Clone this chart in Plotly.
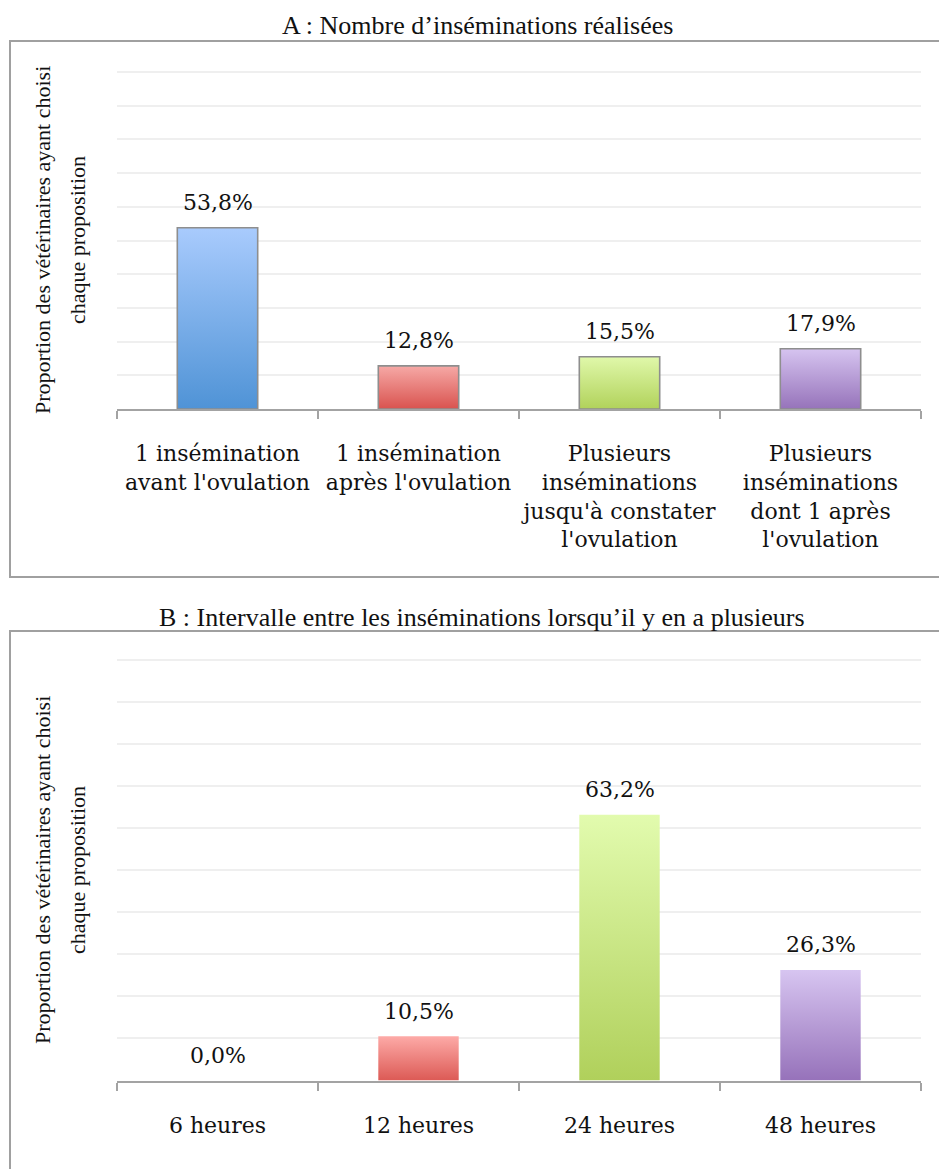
import plotly.graph_objects as go

# ---- data -------------------------------------------------------------
title_a = "A : Nombre d’inséminations réalisées"
title_b = "B : Intervalle entre les inséminations lorsqu’il y en a plusieurs"
y_title = ["Proportion des vétérinaires ayant choisi", "chaque proposition"]

cats_a = [
    "1 insémination<br>avant l'ovulation",
    "1 insémination<br>après l'ovulation",
    "Plusieurs<br>inséminations<br>jusqu'à constater<br>l'ovulation",
    "Plusieurs<br>inséminations<br>dont 1 après<br>l'ovulation",
]
vals_a = [53.8, 12.8, 15.5, 17.9]

cats_b = ["6 heures", "12 heures", "24 heures", "48 heures"]
vals_b = [0.0, 10.5, 63.2, 26.3]

# gradient colours (top, bottom) per bar
tops_a = ["#a9cbfd", "#f6a9a6", "#e0f8aa", "#d6c4f0"]
bots_a = ["#4f93d6", "#d9534f", "#b1d25b", "#9673ba"]
tops_b = ["#fdaaa7", "#fdaaa7", "#e2fbae", "#d7c5f1"]
bots_b = ["#dc5a55", "#dc5a55", "#b0d05b", "#9672ba"]

# ---- styling ----------------------------------------------------------
W, H = 939, 1169
SERIF_TXT = "DejaVu Serif"
SERIF_TITLE = "Liberation Serif"
GRID = "#efefef"
AXIS = "#a3a3a3"
HALF = 0.2      # half bar width in category units
YMAX = 101      # a little headroom so the 100 % gridline is drawn


def px(y):
    return 1 - y / H


def fmt(v):
    return f"{v:.1f}%".replace(".", ",")


fig = go.Figure()
annotations = []


def add_panel(xa, ya, cats, vals, tops, bots, border):
    xref = "x" if xa == "xaxis" else "x2"
    yref = "y" if ya == "yaxis" else "y2"
    for i, v in enumerate(vals):
        fig.add_trace(go.Scatter(
            x=[i - HALF, i - HALF, i + HALF, i + HALF, i - HALF],
            y=[0, v, v, 0, 0],
            xaxis=xref, yaxis=yref,
            mode="lines",
            fill="toself",
            fillgradient=dict(type="vertical",
                              colorscale=[[0, bots[i]], [1, tops[i]]]),
            line=dict(color="#8e8e8e" if border else "rgba(0,0,0,0)",
                      width=1.6 if border else 0),
            hoverinfo="skip",
            showlegend=False,
        ))
        annotations.append(dict(
            x=i, y=v, xref=xref, yref=yref, text=fmt(v), showarrow=False,
            yanchor="middle", yshift=25,
            font=dict(family=SERIF_TXT, size=22, color="#111111"),
        ))


add_panel("xaxis", "yaxis", cats_a, vals_a, tops_a, bots_a, True)
add_panel("xaxis2", "yaxis2", cats_b, vals_b, tops_b, bots_b, False)

xdom = [117 / W, 921 / W]


def xaxis_cfg(cats):
    return dict(
        domain=xdom, range=[-0.5, 3.5], showgrid=False, zeroline=False,
        tickmode="array", tickvals=list(range(len(cats))), ticktext=cats,
        ticks="", ticklabelstandoff=24,
        tickfont=dict(family=SERIF_TXT, size=22, color="#111111"),
        showline=True, linecolor=AXIS, linewidth=2,
        minor=dict(tickmode="array", tickvals=[-0.5, 0.5, 1.5, 2.5, 3.5],
                   ticks="outside", ticklen=8, tickwidth=2, tickcolor=AXIS,
                   showgrid=False),
        fixedrange=True,
    )


def yaxis_cfg(top100, bottom):
    # top100: pixel row of the 100 % line, bottom: pixel row of 0 %
    per = (bottom - top100) / 100.0
    top = bottom - YMAX * per
    return dict(
        domain=[px(bottom), px(top)], range=[0, YMAX], dtick=10,
        showgrid=True, gridcolor=GRID, gridwidth=1.5, zeroline=False,
        showticklabels=False, ticks="", showline=False, fixedrange=True,
    )


fig.update_layout(
    xaxis=dict(xaxis_cfg(cats_a), anchor="y"),
    yaxis=dict(yaxis_cfg(72, 409), anchor="x"),
    xaxis2=dict(xaxis_cfg(cats_b), anchor="y2"),
    yaxis2=dict(yaxis_cfg(660, 1080.5), anchor="x2"),
)

# panel titles
annotations.append(dict(
    x=477 / W, y=px(25), xref="paper", yref="paper", text=title_a,
    showarrow=False, xanchor="center", yanchor="middle",
    font=dict(family=SERIF_TITLE, size=26, color="#111111"),
))
annotations.append(dict(
    x=482 / W, y=px(617), xref="paper", yref="paper", text=title_b,
    showarrow=False, xanchor="center", yanchor="middle",
    font=dict(family=SERIF_TITLE, size=26, color="#111111"),
))

# vertical axis titles, two lines each
for yc in (240, 870):
    for line, xc in zip(y_title, (42, 77)):
        annotations.append(dict(
            x=xc / W, y=px(yc), xref="paper", yref="paper", text=line,
            showarrow=False, textangle=-90, xanchor="center", yanchor="middle",
            font=dict(family=SERIF_TITLE, size=22, color="#111111"),
        ))

# frames around each panel
shapes = [
    dict(type="rect", xref="paper", yref="paper",
         x0=10 / W, x1=1.02, y0=px(577), y1=px(41),
         line=dict(color="#a0a0a0", width=2), fillcolor="rgba(0,0,0,0)",
         layer="below"),
    dict(type="rect", xref="paper", yref="paper",
         x0=10 / W, x1=1.02, y0=-0.02, y1=px(631),
         line=dict(color="#a0a0a0", width=2), fillcolor="rgba(0,0,0,0)",
         layer="below"),
]

fig.update_layout(
    width=W, height=H, margin=dict(l=0, r=0, t=0, b=0),
    paper_bgcolor="white", plot_bgcolor="white",
    annotations=annotations, shapes=shapes, showlegend=False,
)

fig.write_html("out.html")
